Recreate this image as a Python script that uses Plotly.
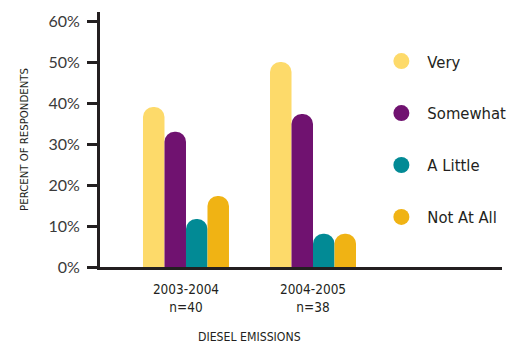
import plotly.graph_objects as go

categories = ["2003-2004<br>n=40", "2004-2005<br>n=38"]
series_names = ["Very", "Somewhat", "A Little", "Not At All"]
very = [39.0, 50.0]
somewhat = [33.0, 37.3]
a_little = [11.7, 8.1]
not_at_all = [17.3, 8.1]
y_ticks = [0, 10, 20, 30, 40, 50, 60]
y_tick_text = ["0%", "10%", "20%", "30%", "40%", "50%", "60%"]
x_title = "DIESEL EMISSIONS"
y_title = "PERCENT OF RESPONDENTS"

colors = ["#FDDA6A", "#701270", "#028A95", "#F0B314"]
values = [very, somewhat, a_little, not_at_all]

cond = "DejaVu Sans Condensed, sans-serif"
ink = "#231F20"

fig = go.Figure()
xpos = [0, 1]
for name, vals, col in zip(series_names, values, colors):
    fig.add_trace(go.Bar(
        x=xpos, y=vals, name=name, marker=dict(color=col, line=dict(width=0), cornerradius=11),
        showlegend=False, hoverinfo="skip"))
for i, (name, col) in enumerate(zip(series_names, colors)):
    fig.add_trace(go.Scatter(
        x=[None], y=[None], mode="markers", name=name, legendgroup=f"g{i}",
        marker=dict(color=col, size=16, symbol="circle")))

fig.add_annotation(
    text=x_title, xref="paper", yref="paper", x=0.371, y=-0.2745,
    xanchor="center", yanchor="middle", showarrow=False,
    font=dict(family=cond, size=12.2, color=ink))

fig.update_layout(
    width=516, height=347,
    margin=dict(l=100, r=14, t=12, b=80, autoexpand=False),
    paper_bgcolor="white", plot_bgcolor="white",
    barmode="group", bargap=0.323, bargroupgap=0,
    showlegend=True,
    legend=dict(
        x=0.685, y=0.875, xanchor="left", yanchor="top",
        bgcolor="rgba(0,0,0,0)", borderwidth=0,
        font=dict(family=cond, size=16.5, color=ink),
        tracegroupgap=27.5, itemwidth=42, traceorder="grouped",
    ),
    xaxis=dict(
        range=[-0.677, 2.488], tickvals=xpos, ticktext=categories,
        showline=True, linecolor=ink, linewidth=3, ticks="",
        showgrid=False, zeroline=False, fixedrange=True,
        ticklabelstandoff=8,
        tickfont=dict(family=cond, size=13.5, color=ink),
    ),
    yaxis=dict(
        range=[0, 62.2], tickvals=y_ticks, ticktext=y_tick_text,
        showline=True, linecolor=ink, linewidth=3,
        ticks="outside", ticklen=10, tickwidth=2.5, tickcolor=ink,
        ticklabelstandoff=4,
        showgrid=False, zeroline=False, fixedrange=True,
        tickfont=dict(family="Lato, sans-serif", size=16, color="#3A3A3A"),
        title=dict(text=y_title, font=dict(family=cond, size=11.3, color=ink), standoff=18),
    ),
)

fig.write_html("out.html")
